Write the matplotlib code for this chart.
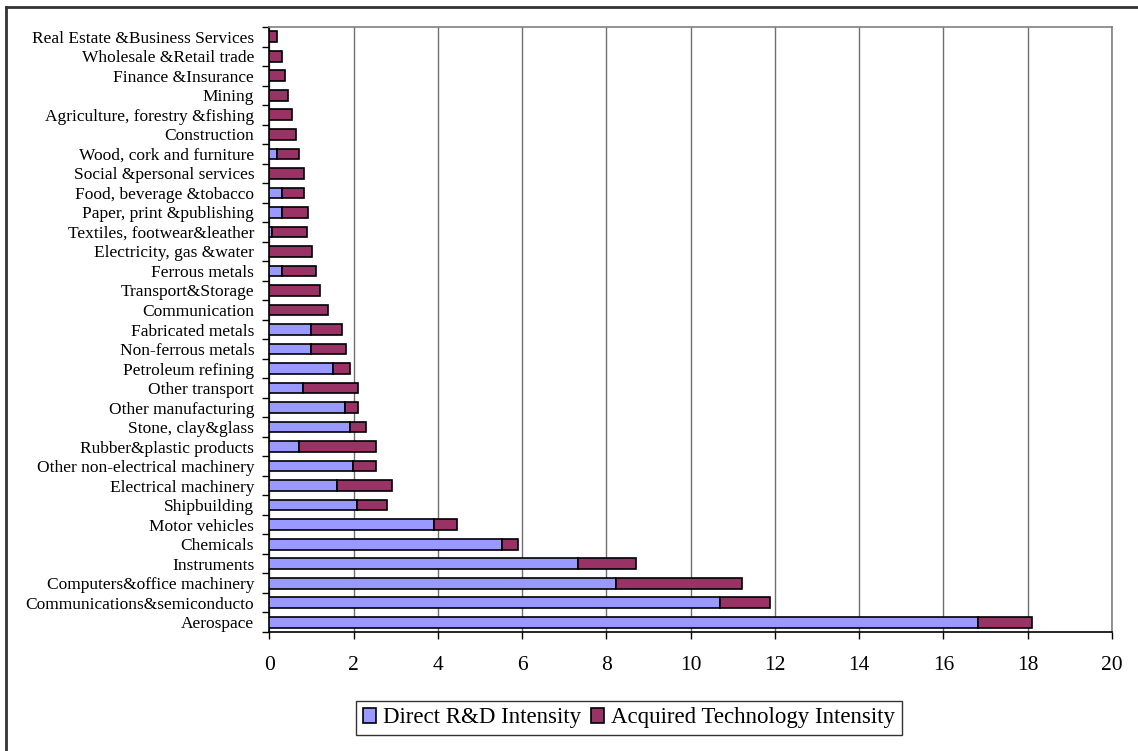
import matplotlib.pyplot as plt
import numpy as np
from matplotlib.patches import Patch
from matplotlib.lines import Line2D

# Sectors, bottom to top
sectors = [
    'Aerospace', 'Communications&semiconducto', 'Computers&office machinery',
    'Instruments', 'Chemicals', 'Motor vehicles', 'Shipbuilding',
    'Electrical machinery', 'Other non-electrical machinery',
    'Rubber&plastic products', 'Stone, clay&glass', 'Other manufacturing',
    'Other transport', 'Petroleum refining', 'Non-ferrous metals',
    'Fabricated metals', 'Communication', 'Transport&Storage', 'Ferrous metals',
    'Electricity, gas &water', 'Textiles, footwear&leather',
    'Paper, print &publishing', 'Food, beverage &tobacco',
    'Social &personal services', 'Wood, cork and furniture', 'Construction',
    'Agriculture, forestry &fishing', 'Mining', 'Finance &Insurance',
    'Wholesale &Retail trade', 'Real Estate &Business Services',
]

direct_rd = [
    16.82, 10.70, 8.23, 7.32, 5.52, 3.90, 2.08, 1.61, 1.98, 0.70, 1.90, 1.80,
    0.79, 1.51, 0.99, 0.99, 0.0, 0.0, 0.29, 0.0, 0.07, 0.29, 0.29, 0.0, 0.18,
    0.0, 0.0, 0.0, 0.0, 0.0, 0.0,
]

total = [
    18.11, 11.88, 11.21, 8.70, 5.91, 4.44, 2.80, 2.90, 2.52, 2.52, 2.29, 2.10,
    2.09, 1.90, 1.81, 1.71, 1.39, 1.20, 1.10, 1.01, 0.90, 0.91, 0.81, 0.81,
    0.71, 0.62, 0.53, 0.43, 0.37, 0.29, 0.19,
]

acquired = [t - d for t, d in zip(total, direct_rd)]

plt.rcParams['font.family'] = ['Liberation Serif', 'DejaVu Serif']

fig = plt.figure(figsize=(11.38, 7.51), dpi=100)
ax = fig.add_axes([0.2368, 0.1585, 0.7403, 0.8055])

y = np.arange(len(sectors))
ax.barh(y, direct_rd, height=0.55, color='#9999FF', edgecolor='black', linewidth=1.2, zorder=3)
ax.barh(y, acquired, left=direct_rd, height=0.55, color='#993366', edgecolor='black', linewidth=1.2, zorder=3)

ax.set_xlim(0, 20)
ax.set_ylim(-0.5, len(sectors) - 0.5)
ax.set_xticks(np.arange(0, 21, 2))
ax.tick_params(axis='x', labelsize=15.5, length=5, width=1, direction='out', pad=12)
ax.set_yticks(y)
ax.set_yticklabels(sectors, fontsize=12.5)
ax.set_yticks(np.arange(-0.5, len(sectors), 1), minor=True)
ax.tick_params(axis='y', which='major', length=0, pad=11)
ax.tick_params(axis='y', which='minor', length=5, width=1, direction='out')

ax.xaxis.grid(True, color='#707070', linewidth=1, zorder=0)
for side in ('top', 'right'):
    ax.spines[side].set_color('#808080')
    ax.spines[side].set_linewidth(1.2)
for side in ('left', 'bottom'):
    ax.spines[side].set_color('black')
    ax.spines[side].set_linewidth(1.2)

# Chart frame edges
fig.add_artist(Line2D([0.0053, 0.0053], [0, 0.9907], color='#333333', linewidth=2))
fig.add_artist(Line2D([0.0053, 1.0], [0.9907, 0.9907], color='#333333', linewidth=2))

handles = [
    Patch(facecolor='#9999FF', edgecolor='black', linewidth=1.2, label='Direct R&D Intensity'),
    Patch(facecolor='#993366', edgecolor='black', linewidth=1.2, label='Acquired Technology Intensity'),
]
leg = fig.legend(handles=handles, loc='center', bbox_to_anchor=(629 / 1138, 1 - 718 / 751),
                 ncol=2, fontsize=16.5, frameon=True, fancybox=False, edgecolor='black',
                 handlelength=0.6, handleheight=0.6, handletextpad=0.3, columnspacing=0.4,
                 borderpad=0.3)
leg.get_frame().set_linewidth(1)

fig.savefig('out.png', dpi=100)
